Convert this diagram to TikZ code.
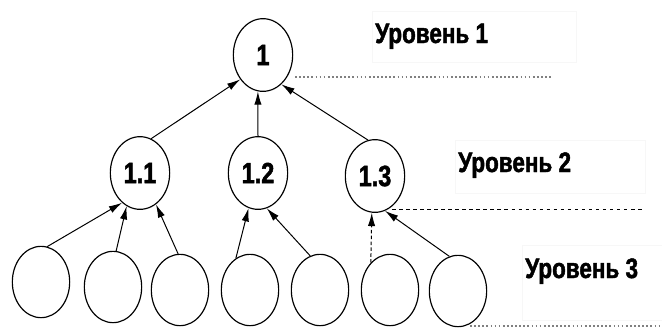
\documentclass[tikz,border=0pt]{standalone}
\usepackage{fontspec}
\newfontfamily\lvlfont[FakeStretch=0.8,BoldFeatures={FakeBold=1.6}]{Liberation Sans}
\usetikzlibrary{arrows.meta,shapes.geometric}

\begin{document}
\begin{tikzpicture}[x=0.03cm,y=-0.03cm,
	vert/.style={draw,ellipse,line width=0.35mm,inner sep=0pt,minimum width=1.78cm,minimum height=2.18cm,font=\lvlfont\bfseries\fontsize{25}{27}\selectfont},
	leaf/.style={vert,minimum width=1.72cm,minimum height=2.14cm},
	edge/.style={line width=0.3mm,-{Latex[length=4mm,width=2.2mm]}},
	lvlbox/.style={draw=gray!6,line width=0.2mm},
	lvltext/.style={anchor=base west,inner sep=0pt,font=\lvlfont\bfseries\fontsize{24}{26}\selectfont}]
		
		\useasboundingbox (0,0) rectangle (662,327);
		
		% level 1
		\node[vert] (n1) at (263,55) {1};
		
		% level 2
		\node[vert] (n11) at (140,173) {1.1};
		\node[vert] (n12) at (258,173) {1.2};
		\node[vert] (n13) at (375,176) {1.3};
		
		% level 3
		\node[leaf] (l1) at (41,282) {};
		\node[leaf] (l2) at (113,287) {};
		\node[leaf] (l3) at (180,290) {};
		\node[leaf] (l4) at (250,290) {};
		\node[leaf] (l5) at (320,290) {};
		\node[leaf] (l6) at (390,290) {};
		\node[leaf] (l7) at (458,291) {};
		
		\draw[edge] (n11.72) -- (n1.227);
		\draw[edge] (n12.90) -- (n1.262);
		\draw[edge] (n13.101) -- (n1.302);
		
		\draw[edge] (l1.80) -- (n11.239);
		\draw[edge] (l2.85) -- (n11.248);
		\draw[edge] (l3.93) -- (n11.297);
		\draw[edge] (l4.114) -- (n12.255);
		\draw[edge] (l5.106) -- (n12.284);
		\draw[edge,densely dashed] (l6.125) -- (n13.265);
		\draw[edge] (l7.104) -- (n13.286);
		
		% levels
		\draw[lvlbox] (372,11) rectangle (576,62);
		\draw[lvlbox] (455,140) rectangle (645,193);
		\draw[lvlbox] (522,245) rectangle (662,320);
		
		\node[lvltext] (lvl1) at (375,43) {Уровень 1};
		\node[lvltext] (lvl2) at (458,172) {Уровень 2};
		\node[lvltext] (lvl3) at (525,278) {Уровень 3};
		
		\draw[gray,line width=0.35mm,dash pattern=on 1.5pt off 2pt] (295,77) -- (553,77);
		\draw[line width=0.3mm,dashed] (392,209) -- (645,209);
		\draw[gray,line width=0.35mm,dash pattern=on 1.5pt off 2pt] (470,326) -- (662,326);
		
	\end{tikzpicture}
\end{document}
